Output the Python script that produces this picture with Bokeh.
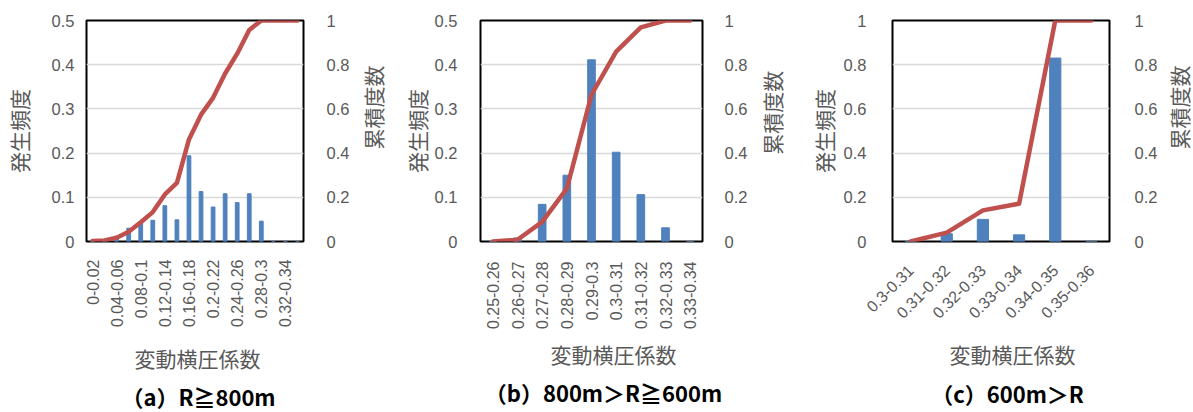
import math
from bokeh.plotting import figure
from bokeh.models import (Range1d, LinearAxis, FactorRange, FixedTicker, NumeralTickFormatter,
                          Label, CustomJSTickFormatter)
from bokeh.layouts import row, column
from bokeh.embed import file_html
from bokeh.resources import INLINE

# ---------------- data ----------------
cats_a = ["0-0.02", "0.02-0.04", "0.04-0.06", "0.06-0.08", "0.08-0.1", "0.1-0.12",
          "0.12-0.14", "0.14-0.16", "0.16-0.18", "0.18-0.2", "0.2-0.22", "0.22-0.24",
          "0.24-0.26", "0.26-0.28", "0.28-0.3", "0.3-0.32", "0.32-0.34", "0.34-0.36"]
freq_a = [0.002, 0.003, 0.012, 0.030, 0.042, 0.048, 0.081, 0.049, 0.194, 0.113,
          0.078, 0.108, 0.088, 0.108, 0.046, 0.0, 0.0, 0.0]
cum_a = [0.002, 0.005, 0.017, 0.044, 0.087, 0.133, 0.213, 0.265, 0.462, 0.574,
         0.650, 0.760, 0.850, 0.957, 1.0, 1.0, 1.0, 1.0]
shown_a = ["0-0.02", "0.04-0.06", "0.08-0.1", "0.12-0.14", "0.16-0.18",
           "0.2-0.22", "0.24-0.26", "0.28-0.3", "0.32-0.34"]

cats_b = ["0.25-0.26", "0.26-0.27", "0.27-0.28", "0.28-0.29", "0.29-0.3",
          "0.3-0.31", "0.31-0.32", "0.32-0.33", "0.33-0.34"]
freq_b = [0.0, 0.008, 0.084, 0.150, 0.411, 0.202, 0.106, 0.031, 0.0]
cum_b = [0.0, 0.008, 0.089, 0.239, 0.664, 0.859, 0.969, 1.0, 1.0]

cats_c = ["0.3-0.31", "0.31-0.32", "0.32-0.33", "0.33-0.34", "0.34-0.35", "0.35-0.36"]
freq_c = [0.0, 0.035, 0.100, 0.030, 0.830, 0.0]
cum_c = [0.0, 0.040, 0.141, 0.171, 1.0, 1.0]

left_ticks_half = [0, 0.1, 0.2, 0.3, 0.4, 0.5]
left_ticks_one = [0, 0.2, 0.4, 0.6, 0.8, 1.0]
right_ticks = [0, 0.2, 0.4, 0.6, 0.8, 1.0]

titles = ["（a）R≧800m", "（b）800m＞R≧600m", "（c）600m＞R"]
x_title = "変動横圧係数"
y_left_title = "発生頻度"
y_right_title = "累積度数"

BAR = "#4F81BD"
LINE = "#C0504D"
GRAY = "#595959"
TICK_FONT = "Liberation Sans"
JP_FONT = "Noto Sans CJK JP"

W = 1193
H = 412
MAIN_H = 340
TOP = 20
FRAME_BOTTOM = 241


def panel(cats, freq, cum, ymax, lticks, w, bl, br,
          orient, lstand, lgap, rstand, xstand, shown=None):
    p = figure(width=w, height=MAIN_H, x_range=FactorRange(*cats), y_range=Range1d(0, ymax),
               output_backend="svg", toolbar_location=None,
               min_border_left=bl, min_border_right=br, min_border_top=TOP,
               min_border_bottom=MAIN_H - FRAME_BOTTOM, background_fill_color="white",
               border_fill_color="white")
    p.extra_y_ranges = {"cum": Range1d(0, 1)}
    p.outline_line_color = "black"
    p.outline_line_width = 2
    p.xgrid.grid_line_color = None
    p.ygrid.ticker = FixedTicker(ticks=lticks)
    p.ygrid.grid_line_color = "#D9D9D9"
    p.ygrid.grid_line_width = 1.5

    p.vbar(x=cats, top=freq, width=0.31, color=BAR)
    p.line(x=cats, y=cum, y_range_name="cum", line_color=LINE, line_width=4.5,
           line_join="round", line_cap="round")

    ya = p.yaxis[0]
    ya.ticker = FixedTicker(ticks=lticks)
    ya.formatter = NumeralTickFormatter(format="0.[0]")
    ya.axis_label = y_left_title
    ya.major_label_standoff = lstand
    ya.axis_label_standoff = lgap

    ra = LinearAxis(y_range_name="cum", ticker=FixedTicker(ticks=right_ticks),
                    formatter=NumeralTickFormatter(format="0.[0]"))
    ra.major_label_standoff = rstand
    p.add_layout(ra, "right")

    xa = p.xaxis[0]
    xa.major_label_orientation = orient
    xa.major_label_standoff = xstand
    if shown is not None:
        xa.formatter = CustomJSTickFormatter(
            args=dict(shown=shown),
            code="return shown.includes(tick) ? tick : '';")

    for ax in [ya, ra, xa]:
        ax.axis_line_color = None
        ax.major_tick_line_color = None
        ax.minor_tick_line_color = None
        ax.major_label_text_font = TICK_FONT
        ax.major_label_text_font_size = "16px"
        ax.major_label_text_color = GRAY
        ax.axis_label_text_font = JP_FONT
        ax.axis_label_text_font_size = "21px"
        ax.axis_label_text_font_style = "normal"
        ax.axis_label_text_color = GRAY
    ya.major_label_text_font_size = "16.5px"
    ra.major_label_text_font_size = "16.5px"
    return p


def strip(w, h):
    s = figure(width=w, height=h, x_range=Range1d(0, w), y_range=Range1d(h, 0),
               x_axis_type=None, y_axis_type=None, output_backend="svg",
               toolbar_location=None, min_border=0, background_fill_color="white",
               border_fill_color="white")
    s.outline_line_color = None
    s.grid.visible = False
    return s


def right_title(w, cx, cy):
    s = strip(w, MAIN_H)
    s.add_layout(Label(x=cx, y=cy, text=y_right_title, angle=math.pi / 2,
                       text_font=JP_FONT, text_font_size="21px", text_color=GRAY,
                       text_align="center", text_baseline="middle"))
    return s


pa = panel(cats_a, freq_a, cum_a, 0.5, left_ticks_half, 352, 74, 46,
           math.pi / 2, 6, 15, 17, 12, shown=shown_a)
sa = right_title(45, 20.5, 134)
pb = panel(cats_b, freq_b, cum_b, 0.5, left_ticks_half, 353, 83, 45,
           math.pi / 2, 17, 0, 16, 14)
sb = right_title(45, 21, 142)
pc = panel(cats_c, freq_c, cum_c, 1.0, left_ticks_one, 365, 97, 47,
           math.pi / 4, 20, 2, 19, 20)
sc = right_title(33, 18, 134)

bottom = strip(W, H - MAIN_H)
for cx, cy, text in [(197, 357, x_title), (613, 353, x_title), (1012, 353, x_title)]:
    bottom.add_layout(Label(x=cx, y=cy - MAIN_H, text=text, text_font=JP_FONT,
                            text_font_size="21px", text_color=GRAY,
                            text_align="center", text_baseline="middle"))
for cx, cy, text in [(198, 395, titles[0]), (603, 391, titles[1]), (1007, 392, titles[2])]:
    bottom.add_layout(Label(x=cx, y=cy - MAIN_H, text=text, text_font=JP_FONT,
                            text_font_size="22px", text_font_style="bold",
                            text_color="black", text_align="center",
                            text_baseline="middle"))

layout = column(row(pa, sa, pb, sb, pc, sc, spacing=0), bottom, spacing=0)
open("out.html", "w").write(file_html(layout, INLINE))
